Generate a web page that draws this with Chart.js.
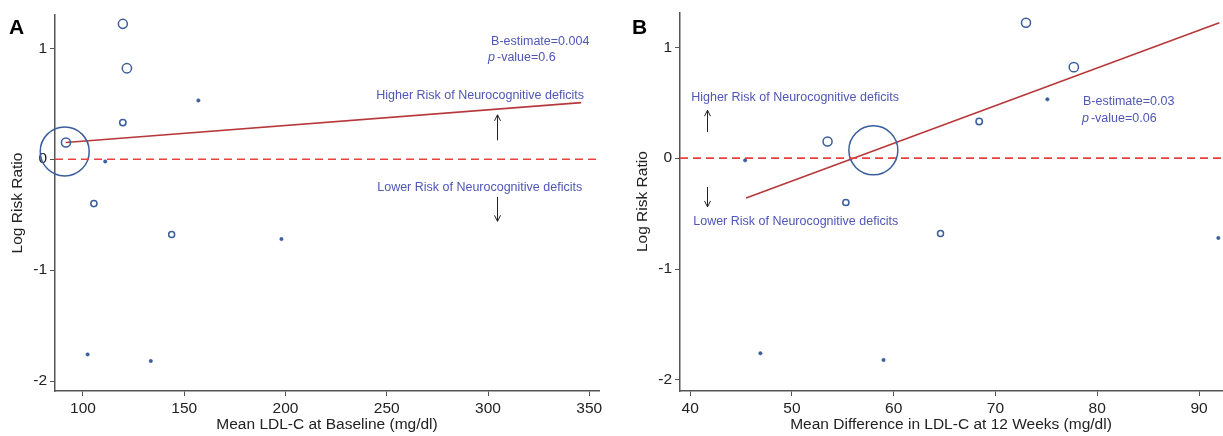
<!DOCTYPE html>
<html><head><meta charset="utf-8">
<script src="https://cdn.jsdelivr.net/npm/chart.js@4.4.1/dist/chart.umd.min.js"></script>
<style>
html,body{margin:0;padding:0;background:#fff;width:1223px;height:436px;overflow:hidden;position:relative}
canvas{position:absolute;top:0}
#cA{left:0}
#cB{left:625px}
</style></head><body>
<canvas id="cA" width="611" height="436"></canvas>
<canvas id="cB" width="598" height="436"></canvas>
<script>
// ---- data ----
const studyLogRR   = [1.22, 0.82, 0.33, 0.53, 0.07, 0.15, -0.02, -0.40, -0.68, -0.72, -1.76, -1.82];
const baselineLDL  = [119.7, 121.7, 119.7, 157.0, 91.0, 91.6, 111.0, 105.4, 143.8, 198.0, 102.3, 133.5];
const ldlDiff12wk  = [73.0, 77.7, 68.4, 75.1, 58.0, 53.5, 45.4, 55.3, 64.6, 91.9, 46.9, 59.0];
const studyWeight  = [3.4, 3.6, 1.7, 0.5, 100, 3.4, 0.5, 1.6, 1.5, 0.5, 0.5, 0.5];
const fitAx = [91.5, 346];
const fitAy = [0.15, 0.51];
const fitBx = [45.5, 92.0];
const fitBy = [-0.36, 1.22];
const xTicksA = [100, 150, 200, 250, 300, 350];
const xTicksB = [40, 50, 60, 70, 80, 90];
const yTicks  = [-2, -1, 0, 1];

// ---- styling ----
const FONT = "'Liberation Sans', Arial, Helvetica, sans-serif";
const BLUE = '#3a5d9c';
const TXT = '#4f56b6';
const AXIS = '#555';

const radii = studyWeight.map(w => 2.45 * Math.sqrt(w));

const annot = {
  id: 'annot',
  afterDatasetsDraw(chart, args, opts) {
    const ctx = chart.ctx, xs = chart.scales.x, ys = chart.scales.y;
    ctx.save();
    ctx.textBaseline = 'middle';
    ctx.textAlign = 'left';
    (opts.texts || []).forEach(t => {
      let cx = xs.getPixelForValue(t.x);
      const cy = ys.getPixelForValue(t.y);
      ctx.fillStyle = TXT;
      t.parts.forEach(p => {
        ctx.font = (p.italic ? 'italic ' : '') + '12.5px ' + FONT;
        ctx.fillText(p.s, cx, cy);
        cx += ctx.measureText(p.s).width + (p.gap || 0);
      });
    });
    ctx.strokeStyle = '#222';
    ctx.lineWidth = 1;
    (opts.arrows || []).forEach(a => {
      const x = Math.round(xs.getPixelForValue(a.x)) + 0.5;
      const y0 = ys.getPixelForValue(a.from), y1 = ys.getPixelForValue(a.to);
      const dir = y1 < y0 ? 1 : -1;
      ctx.beginPath();
      ctx.moveTo(x, y0); ctx.lineTo(x, y1);
      ctx.moveTo(x - 3, y1 + dir * 6); ctx.lineTo(x, y1); ctx.lineTo(x + 3, y1 + dir * 6);
      ctx.stroke();
    });
    if (opts.letter) {
      ctx.fillStyle = '#000';
      ctx.font = 'bold 21px ' + FONT;
      ctx.fillText(opts.letter.s, opts.letter.x, opts.letter.y);
    }
    ctx.restore();
  }
};

function makeChart(id, xVals, fitX, fitY, xMin, xMax, yMin, yMax, xTicks, xTitle, area, texts, arrows, letter) {
  const pts = xVals.map((x, i) => ({x: x, y: studyLogRR[i]}));
  const chart = new Chart(document.getElementById(id), {
    type: 'scatter',
    data: {
      datasets: [
        {
          data: [{x: xMin, y: 0}, {x: xMax, y: 0}],
          showLine: true, pointRadius: 0, borderColor: '#e8423f', borderWidth: 1.6,
          borderDash: [8, 5]
        },
        {
          data: pts,
          pointRadius: radii,
          pointBackgroundColor: radii.map(r => r < 2.5 ? BLUE : 'rgba(0,0,0,0)'),
          pointBorderColor: BLUE,
          pointBorderWidth: radii.map(r => r < 2.5 ? 0.5 : 1.5),
          clip: false
        },
        {
          data: fitX.map((x, i) => ({x: x, y: fitY[i]})),
          showLine: true, pointRadius: 0, borderColor: '#b8383a', borderWidth: 1.6
        }
      ]
    },
    options: {
      responsive: false, animation: false, devicePixelRatio: 1,
      layout: {autoPadding: false, padding: {top: area.top, right: 611 - area.right, left: 0, bottom: 0}},
      plugins: {
        legend: {display: false}, tooltip: {enabled: false}, title: {display: false},
        annot: {texts: texts, arrows: arrows, letter: letter}
      },
      scales: {
        x: {
          type: 'linear', min: xMin, max: xMax,
          afterBuildTicks: s => { s.ticks = xTicks.map(v => ({value: v})); },
          afterFit: s => { s.height = 45; },
          border: {display: true, color: AXIS, width: 1.5},
          grid: {display: true, drawOnChartArea: false, drawTicks: true, tickLength: 5, color: AXIS, lineWidth: 1},
          ticks: {color: '#222', font: {family: FONT, size: 15.5}, padding: 3, callback: v => String(v), maxRotation: 0},
          title: {display: true, text: xTitle, color: '#222', font: {family: FONT, size: 15.5}, padding: {top: 0, bottom: 2}}
        },
        y: {
          type: 'linear', min: yMin, max: yMax,
          afterBuildTicks: s => { s.ticks = yTicks.map(v => ({value: v})); },
          afterFit: s => { s.width = 55; },
          border: {display: true, color: AXIS, width: 1.5},
          grid: {display: true, drawOnChartArea: false, drawTicks: true, tickLength: 5, color: AXIS, lineWidth: 1},
          ticks: {color: '#222', font: {family: FONT, size: 15.5}, padding: 3, callback: v => String(v)},
          title: {display: true, text: 'Log Risk Ratio', color: '#222', font: {family: FONT, size: 15.5}, padding: {top: 8, bottom: 0}}
        }
      }
    },
    plugins: [annot]
  });
  // nudge layout padding so the plot area lands exactly where the reference has it
  for (let k = 0; k < 2; k++) {
    const ca = chart.chartArea, p = chart.options.layout.padding;
    const dt = area.top - ca.top, dr = ca.right - area.right;
    if (Math.abs(dt) < 0.5 && Math.abs(dr) < 0.5) break;
    p.top += dt;
    p.right += dr;
    chart.update('none');
  }
  return chart;
}

makeChart('cA', baselineLDL, fitAx, fitAy, 86.2, 354.8, -2.09, 1.30, xTicksA,
  'Mean LDL-C at Baseline (mg/dl)', {left: 55, top: 15, right: 599, bottom: 391},
  [
    {x: 301.5, y: 1.063, parts: [{s: 'B-estimate=0.004'}]},
    {x: 300.0, y: 0.92, parts: [{s: 'p', italic: true, gap: 2}, {s: '-value=0.6'}]},
    {x: 244.8, y: 0.577, parts: [{s: 'Higher Risk of Neurocognitive deficits'}]},
    {x: 245.3, y: -0.252, parts: [{s: 'Lower Risk of Neurocognitive deficits'}]}
  ],
  [{x: 304.4, from: 0.17, to: 0.40}, {x: 304.4, from: -0.34, to: -0.56}],
  {s: 'A', x: 9, y: 28});

makeChart('cB', ldlDiff12wk, fitBx, fitBy, 39.0, 92.26, -2.10, 1.315, xTicksB,
  'Mean Difference in LDL-C at 12 Weeks (mg/dl)', {left: 55, top: 12, right: 597, bottom: 391},
  [
    {x: 40.1, y: 0.55, parts: [{s: 'Higher Risk of Neurocognitive deficits'}]},
    {x: 40.3, y: -0.568, parts: [{s: 'Lower Risk of Neurocognitive deficits'}]},
    {x: 78.6, y: 0.513, parts: [{s: 'B-estimate=0.03'}]},
    {x: 78.5, y: 0.36, parts: [{s: 'p', italic: true, gap: 2}, {s: '-value=0.06'}]}
  ],
  [{x: 41.67, from: 0.234, to: 0.432}, {x: 41.67, from: -0.26, to: -0.44}],
  {s: 'B', x: 7, y: 28});
</script>
</body></html>
